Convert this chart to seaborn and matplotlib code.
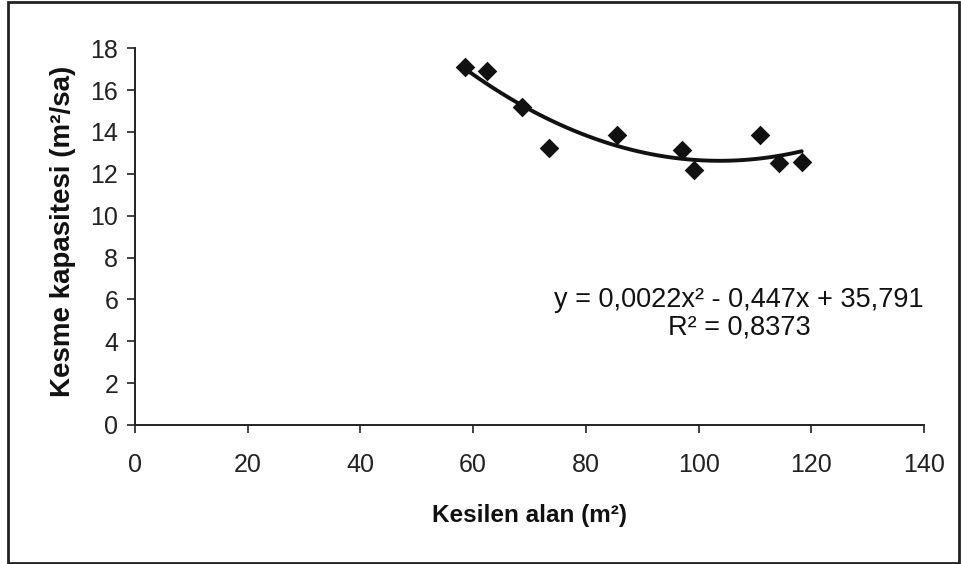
import numpy as np
import pandas as pd
import matplotlib
matplotlib.use('Agg')
import matplotlib.pyplot as plt
import seaborn as sns
from matplotlib.patches import Rectangle

# data
kesilen_alan = [58.6, 62.5, 68.7, 73.5, 85.5, 97.1, 99.2, 110.9, 114.3, 118.3]
kesme_kapasitesi = [17.1, 16.9, 15.2, 13.25, 13.85, 13.15, 12.2, 13.85, 12.5, 12.55]

x_ticks = [0, 20, 40, 60, 80, 100, 120, 140]
y_ticks = [0, 2, 4, 6, 8, 10, 12, 14, 16, 18]

equation_line = 'y = 0,0022x² - 0,447x + 35,791'
r2_line = 'R² = 0,8373'

df = pd.DataFrame({'alan': kesilen_alan, 'kapasite': kesme_kapasitesi})

sns.set_style('ticks')
plt.rcParams['font.family'] = ['Liberation Sans', 'DejaVu Sans']

fig = plt.figure(figsize=(9.61, 5.64), dpi=100)
ax = fig.add_axes([0.1405, 0.2465, 0.821, 0.668])

# quadratic trend line (Excel style polynomial fit)
sns.regplot(x='alan', y='kapasite', data=df, order=2, ci=None, scatter=False,
            line_kws={'color': '#111111', 'linewidth': 2.8}, ax=ax)
sns.scatterplot(x='alan', y='kapasite', data=df, marker='D', s=100,
                color='#111111', edgecolor='#111111', linewidth=0, ax=ax, zorder=3)

ax.set_xlim(0, 140)
ax.set_ylim(0, 18)
ax.set_xticks(x_ticks)
ax.set_yticks(y_ticks)
ax.tick_params(axis='both', labelsize=18, length=6, width=1.2, color='#222222',
               labelcolor='#222222')
ax.tick_params(axis='y', pad=6)
ax.tick_params(axis='x', pad=14)
for side in ['top', 'right']:
    ax.spines[side].set_visible(False)
for side in ['left', 'bottom']:
    ax.spines[side].set_linewidth(1.4)
    ax.spines[side].set_color('#222222')

ax.set_xlabel('Kesilen alan (m²)', fontsize=17.5, fontweight='bold',
              color='#111111', va='center')
ax.set_ylabel('Kesme kapasitesi (m²/sa)', fontsize=20, fontweight='bold',
              color='#111111', va='center')
ax.xaxis.set_label_coords(0.5, -0.239)
ax.yaxis.set_label_coords(-0.0913, 0.513)

ax.text(107.2, 5.63, equation_line, ha='center', va='baseline', fontsize=19.5,
        color='#111111')
ax.text(107.2, 4.30, r2_line, ha='center', va='baseline', fontsize=19.5,
        color='#111111')

# outer frame around the chart area
fig.patches.append(Rectangle((8 / 961, 1 / 564), 951 / 961, 561 / 564,
                             transform=fig.transFigure, fill=False,
                             edgecolor='#222222', linewidth=2))

fig.savefig('out.png', dpi=100)
